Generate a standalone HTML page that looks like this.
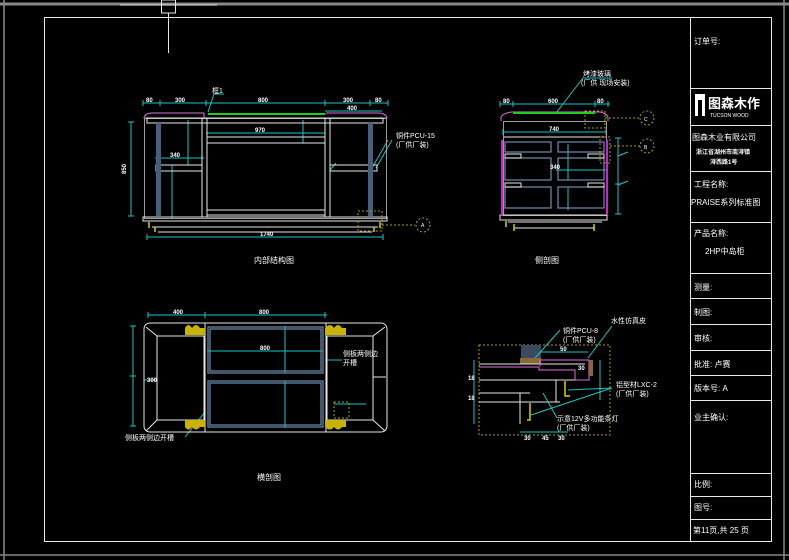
<!DOCTYPE html>
<html><head><meta charset="utf-8"><style>
body{margin:0;background:#000;width:789px;height:560px;overflow:hidden}
svg{display:block}
text{font-family:"Liberation Sans","Noto Sans CJK SC",sans-serif;fill:#fff}
.d{stroke:#1cc4c4;stroke-width:1;fill:none}
.w{stroke:#e8e8e8;stroke-width:1;fill:none}
.g{stroke:#9a9a9a;stroke-width:1;fill:none}
.b{stroke:#6f8fb0;stroke-width:1.2;fill:none}
.p{stroke:#e070e0;stroke-width:1;fill:none}
.y{stroke:#d8d000;stroke-width:1.5;fill:none}
.yd{stroke:#a8a000;stroke-width:1;fill:none;stroke-dasharray:2 2}
.n{font-size:6px;font-weight:bold}
.t{font-size:8px}
.s{font-size:7px}
</style></head><body>
<svg width="789" height="560" viewBox="0 0 789 560">
<!-- outer frame -->
<line x1="0" y1="4" x2="789" y2="4" stroke="#888" stroke-width="3"/>
<line x1="4" y1="0" x2="4" y2="560" stroke="#888" stroke-width="1.5"/>
<line x1="0" y1="555" x2="789" y2="555" stroke="#888" stroke-width="1.5"/>
<line x1="784" y1="0" x2="784" y2="560" stroke="#888" stroke-width="1.5"/>
<line x1="120" y1="5" x2="217" y2="5" stroke="#eee"/>
<rect x="161.5" y="0" width="14" height="13" class="w"/>
<line x1="168.5" y1="13" x2="168.5" y2="53" class="w"/>
<rect x="44.5" y="17.5" width="727" height="524" class="w"/>
<!-- title block -->
<line x1="690.5" y1="17" x2="690.5" y2="541" class="w"/>
<g class="w">
<line x1="690" y1="88.5" x2="771" y2="88.5"/><line x1="690" y1="125.5" x2="771" y2="125.5"/>
<line x1="690" y1="171.5" x2="771" y2="171.5"/><line x1="690" y1="222.5" x2="771" y2="222.5"/>
<line x1="690" y1="273.5" x2="771" y2="273.5"/><line x1="690" y1="298.5" x2="771" y2="298.5"/>
<line x1="690" y1="324.5" x2="771" y2="324.5"/><line x1="690" y1="350.5" x2="771" y2="350.5"/>
<line x1="690" y1="375.5" x2="771" y2="375.5"/><line x1="690" y1="400.5" x2="771" y2="400.5"/>
<line x1="690" y1="473.5" x2="771" y2="473.5"/><line x1="690" y1="496.5" x2="771" y2="496.5"/>
<line x1="690" y1="519.5" x2="771" y2="519.5"/>
</g>
<text x="694" y="44" class="t">订单号:</text>
<rect x="695" y="94" width="10" height="22" fill="#fff"/><rect x="698" y="100" width="4" height="16" fill="#000"/>
<text x="708" y="108" font-size="13" font-weight="bold">图森木作</text>
<text x="710" y="117" font-size="5">TUCSON WOOD</text>
<text x="692" y="140" class="t">图森木业有限公司</text>
<text x="696" y="154" font-size="6" font-weight="bold">浙江省湖州市南浔镇</text>
<text x="710" y="164" font-size="6" font-weight="bold">浔西路1号</text>
<text x="694" y="187" class="t">工程名称:</text>
<text x="691" y="205" class="t">PRAISE系列标准图</text>
<text x="694" y="236" class="t">产品名称:</text>
<text x="705" y="254" class="t">2HP中岛柜</text>
<text x="694" y="290" class="t">测量:</text>
<text x="694" y="315" class="t">制图:</text>
<text x="694" y="341" class="t">审核:</text>
<text x="694" y="367" class="t">批准: 卢赛</text>
<text x="694" y="391" class="t">版本号:  A</text>
<text x="694" y="420" class="t">业主确认:</text>
<text x="694" y="487" class="t">比例:</text>
<text x="694" y="510" class="t">图号:</text>
<text x="693" y="533" class="t">第11页,共 25 页</text>

<!-- FRONT VIEW -->
<g class="d">
<line x1="143" y1="103" x2="388" y2="103"/>
<line x1="143" y1="100" x2="143" y2="106"/><line x1="160" y1="100" x2="160" y2="106"/><line x1="206" y1="100" x2="206" y2="106"/><line x1="325" y1="100" x2="325" y2="106"/><line x1="370" y1="100" x2="370" y2="106"/><line x1="388" y1="100" x2="388" y2="106"/>
<line x1="131" y1="122" x2="131" y2="216"/><line x1="128" y1="122" x2="134" y2="122"/><line x1="128" y1="216" x2="134" y2="216"/>
<line x1="147" y1="237" x2="383" y2="237"/><line x1="147" y1="234" x2="147" y2="240"/><line x1="383" y1="234" x2="383" y2="240"/>
<line x1="206" y1="133" x2="325" y2="133"/><line x1="155" y1="158" x2="204" y2="158"/><line x1="188" y1="120" x2="188" y2="165"/>
<line x1="172" y1="165" x2="172" y2="218"/><line x1="325" y1="111" x2="382" y2="111"/>
<line x1="303" y1="120" x2="303" y2="143"/><line x1="336" y1="163" x2="330" y2="170"/>
<line x1="208" y1="112" x2="214" y2="94"/><line x1="214" y1="94" x2="224" y2="94"/>
<line x1="372" y1="168" x2="388" y2="140"/><line x1="376" y1="168" x2="392" y2="140"/>
</g>
<path d="M144 118 Q145 113 152 113 L204 113 L204 118 Z M326 113 L378 113 Q386 113 387 118 L326 118" class="p"/>
<line x1="208" y1="114" x2="325" y2="114" stroke="#1ed01e" stroke-width="2"/>
<rect x="144.5" y="118.5" width="242" height="100" class="g"/>
<rect x="147" y="118" width="236" height="5" class="w"/>
<g class="w">
<line x1="202" y1="118" x2="202" y2="217"/><line x1="207" y1="118" x2="207" y2="217"/>
<line x1="325" y1="118" x2="325" y2="217"/><line x1="330" y1="118" x2="330" y2="217"/>
<rect x="207" y="137" width="118" height="6"/><rect x="207" y="210" width="118" height="5"/>
<rect x="156" y="165" width="46" height="6"/><rect x="330" y="165" width="47" height="6"/>
<rect x="143" y="217" width="244" height="4"/>
<line x1="152" y1="227" x2="378" y2="227"/><line x1="158" y1="232" x2="372" y2="232"/>
</g>
<rect x="156" y="123" width="5" height="93" fill="#46607a"/>
<rect x="368" y="123" width="5" height="93" fill="#46607a"/>
<g class="y"><path d="M149 222 V228 M155 227 V232 M374 227 V232 M380 222 V228"/></g>
<g class="yd"><rect x="358" y="211" width="24" height="20"/><line x1="382" y1="225" x2="415" y2="225"/></g>
<g class="yd"><circle cx="423" cy="225" r="7"/></g>
<text x="421" y="227" font-size="5" fill="#1cc4c4">A</text>
<g class="n">
<text x="146" y="102">80</text><text x="175" y="102">300</text><text x="258" y="102">800</text><text x="343" y="102">300</text><text x="375" y="102">80</text>
<text x="255" y="132">970</text><text x="347" y="110">400</text><text x="170" y="157">340</text><text x="260" y="236">1740</text>
<text x="122" y="170" transform="rotate(-90 126 170)">850</text>
<text x="212" y="93" font-size="7" font-weight="normal">框1</text>
</g>
<text x="396" y="138" class="s">铜件PCU-15</text><text x="396" y="147" class="s">(厂供厂装)</text>
<text x="254" y="263" class="t">内部结构图</text>

<!-- SIDE VIEW -->
<g class="d">
<line x1="500" y1="104" x2="610" y2="104"/><line x1="500" y1="101" x2="500" y2="107"/><line x1="513" y1="101" x2="513" y2="107"/><line x1="595" y1="101" x2="595" y2="107"/><line x1="608" y1="101" x2="608" y2="107"/>
<line x1="503" y1="132" x2="606" y2="132"/><line x1="503" y1="129" x2="503" y2="135"/><line x1="606" y1="129" x2="606" y2="135"/>
<line x1="618" y1="138" x2="618" y2="214"/><line x1="615" y1="138" x2="621" y2="138"/><line x1="615" y1="184" x2="621" y2="184"/><line x1="615" y1="214" x2="621" y2="214"/>
<line x1="556" y1="170" x2="606" y2="170"/><line x1="556" y1="113" x2="583" y2="78"/><line x1="583" y1="78" x2="612" y2="78"/>
<line x1="568" y1="144" x2="568" y2="160"/><line x1="568" y1="160" x2="568" y2="180"/><line x1="568" y1="188" x2="568" y2="210"/>
<line x1="618" y1="156" x2="628" y2="152"/><line x1="618" y1="185" x2="628" y2="181"/>
</g>
<path d="M501 121 L501 117 Q503 113 512 112 L600 112 Q606 113 608 117 L608 121" class="p"/>
<line x1="513" y1="113" x2="595" y2="113" stroke="#1ed01e" stroke-width="2"/>
<rect x="503.5" y="121.5" width="103" height="94" class="g"/>
<line x1="504" y1="137" x2="606" y2="137" class="w"/>
<g class="b">
<rect x="505" y="142" width="46" height="10"/><rect x="558" y="142" width="46" height="10"/>
<rect x="505" y="158" width="46" height="22"/><rect x="558" y="158" width="46" height="22"/>
<rect x="505" y="187" width="46" height="21"/><rect x="558" y="187" width="46" height="21"/>
</g>
<g class="w"><rect x="505" y="154" width="16" height="4"/><rect x="588" y="154" width="16" height="4"/><rect x="505" y="183" width="16" height="4"/><rect x="588" y="183" width="16" height="4"/>
<rect x="500" y="215" width="107" height="5"/><line x1="508" y1="222" x2="602" y2="222"/><line x1="514" y1="228" x2="595" y2="228"/></g>
<path d="M502 140 V215 M607 140 V215" stroke="#d020d0" stroke-width="2"/>
<g class="y"><path d="M506 221 V227 M514 224 V231 M594 224 V231"/></g>
<g class="yd"><rect x="585" y="111" width="20" height="17"/><line x1="605" y1="118" x2="640" y2="118"/><circle cx="647" cy="118" r="7"/>
<rect x="600" y="137" width="10" height="26"/><line x1="610" y1="146" x2="640" y2="146"/><circle cx="647" cy="146" r="7"/></g>
<text x="644" y="121" font-size="5" fill="#1cc4c4">C</text><text x="644" y="149" font-size="5" fill="#1cc4c4">B</text>
<g class="n"><text x="503" y="103">80</text><text x="548" y="103">600</text><text x="597" y="103">80</text><text x="549" y="131">740</text>
<text x="550" y="169">340</text></g>
<text x="583" y="76" class="s">烤漆玻璃</text><text x="581" y="85" class="s">(厂供 现场安装)</text>
<text x="535" y="263" class="t">侧剖图</text>

<!-- PLAN VIEW -->
<g class="d">
<line x1="148" y1="315" x2="327" y2="315"/><line x1="148" y1="312" x2="148" y2="318"/><line x1="205" y1="312" x2="205" y2="318"/><line x1="325" y1="312" x2="325" y2="318"/>
<line x1="133" y1="326" x2="133" y2="426"/><line x1="130" y1="326" x2="136" y2="326"/><line x1="130" y1="376" x2="136" y2="376"/><line x1="130" y1="426" x2="136" y2="426"/>
<line x1="207" y1="351" x2="323" y2="351"/><line x1="285" y1="326" x2="285" y2="373"/><line x1="285" y1="381" x2="285" y2="428"/>
<line x1="144" y1="380" x2="157" y2="380"/><line x1="326" y1="360" x2="342" y2="360"/>
<line x1="185" y1="437" x2="205" y2="412"/><line x1="334" y1="404" x2="366" y2="404"/>
</g>
<rect x="144" y="323" width="243" height="109" rx="6" class="w"/>
<g class="w">
<path d="M157 336 L204 336 L204 420 L157 420 Z"/>
<path d="M327 336 L373 336 L373 420 L327 420 Z"/>
<line x1="146" y1="327" x2="157" y2="336"/><line x1="146" y1="431" x2="157" y2="420"/>
<line x1="385" y1="327" x2="373" y2="336"/><line x1="385" y1="431" x2="373" y2="420"/>
<line x1="373" y1="377" x2="386" y2="377"/>
<rect x="205" y="323" width="121" height="109"/>
</g>
<g class="b">
<rect x="208" y="327" width="115" height="46"/><rect x="210" y="329" width="111" height="42"/>
<rect x="208" y="381" width="115" height="46"/><rect x="210" y="383" width="111" height="42"/>
</g>
<g fill="#c8b400">
<path d="M185 335 L185 328 Q188 322 192 328 Q196 322 200 328 L205 328 L205 335 Z"/>
<path d="M325 335 L325 328 Q330 322 334 328 Q338 322 342 328 L346 328 L346 335 Z"/>
<path d="M185 420 L185 427 Q188 432 192 427 Q196 432 200 427 L205 427 L205 420 Z"/>
<path d="M325 420 L325 427 Q330 432 334 427 Q338 432 342 427 L346 427 L346 420 Z"/>
</g>
<g class="yd"><rect x="334" y="402" width="15" height="16"/></g>
<g class="n"><text x="173" y="314">400</text><text x="259" y="314">800</text><text x="260" y="350">800</text><text x="147" y="382">300</text></g>
<text x="343" y="356" class="s">侧板两侧边</text><text x="343" y="365" class="s">开槽</text>
<text x="125" y="440" class="s">侧板两侧边开槽</text>
<text x="257" y="480" class="t">横剖图</text>

<!-- DETAIL -->
<g class="yd"><rect x="479" y="345" width="131" height="90"/></g>
<rect x="521" y="345" width="20" height="17" fill="#3a4a60"/>
<rect x="520" y="358" width="21" height="6" fill="#8a6a30"/>
<g class="w">
<line x1="479" y1="364" x2="585" y2="364"/><line x1="479" y1="380" x2="585" y2="380"/>
<line x1="479" y1="393" x2="530" y2="393"/><line x1="479" y1="402" x2="560" y2="402"/>
<line x1="520" y1="393" x2="520" y2="424"/><line x1="556" y1="380" x2="556" y2="402"/>
</g>
<path d="M479 367 L539 367 L539 370 L575 370 L575 380 L589 380 L589 360 L540 360 L540 366" class="p"/>
<rect x="589" y="360" width="4" height="16" fill="#8a6a30"/>
<g class="y"><path d="M565 381 V396 L570 396 M530 403 V420 L527 420"/></g>
<g class="d">
<line x1="540" y1="352" x2="588" y2="352"/><line x1="600" y1="360" x2="600" y2="400"/><line x1="474" y1="360" x2="474" y2="424"/>
<line x1="520" y1="432" x2="568" y2="432"/><line x1="535" y1="358" x2="560" y2="330"/><line x1="588" y1="358" x2="612" y2="326"/>
<line x1="568" y1="390" x2="612" y2="388"/><line x1="531" y1="415" x2="612" y2="388"/><line x1="543" y1="393" x2="557" y2="418"/>
</g>
<g class="n"><text x="560" y="351">50</text><text x="578" y="370">30</text><text x="468" y="380">18</text><text x="468" y="400">18</text><text x="524" y="440">30</text><text x="542" y="440">45</text><text x="558" y="440">30</text></g>
<text x="563" y="333" class="s">铜件PCU-8</text><text x="563" y="342" class="s">(厂供厂装)</text>
<text x="611" y="323" class="s">水性仿真皮</text>
<text x="616" y="387" class="s">铝型材LXC-2</text><text x="616" y="396" class="s">(厂供厂装)</text>
<text x="557" y="421" class="s">示意12V多功能条灯</text><text x="557" y="430" class="s">(厂供厂装)</text>
</svg>
</body></html>
